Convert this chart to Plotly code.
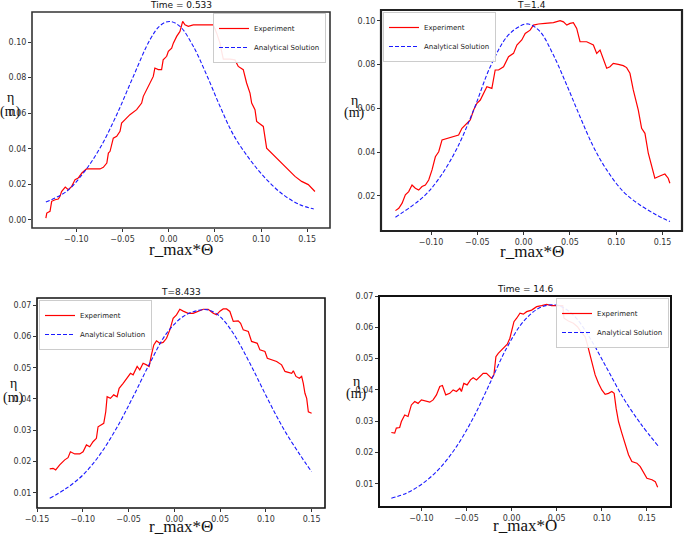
import plotly.graph_objects as go

# ---------------- data ----------------
# Panel 1: Time = 0.533
p1_exp_x = [-0.133, -0.132, -0.1285, -0.1267, -0.123, -0.1195, -0.1177, -0.116, -0.112, -0.1087, -0.105, -0.1014,
            -0.098, -0.094, -0.089, -0.0816, -0.0744, -0.0708, -0.067, -0.0653, -0.0635, -0.06, -0.0563, -0.0527,
            -0.051, -0.0473, -0.042, -0.0347, -0.0293, -0.0275, -0.024, -0.020, -0.0167, -0.015, -0.0113, -0.0077,
            -0.006, -0.0022, -0.0004, 0.0032, 0.005, 0.0086, 0.0122, 0.0151, 0.0176, 0.0212, 0.0266, 0.0338,
            0.0392, 0.0483, 0.0519, 0.0555, 0.0573, 0.0591, 0.0663, 0.0717, 0.0753, 0.0807, 0.0843, 0.088, 0.0898,
            0.0934, 0.0952, 0.1024, 0.106, 0.1114, 0.1186, 0.1276, 0.1367, 0.1439, 0.1511, 0.1583]
p1_exp_y = [0.0011, 0.0039, 0.0049, 0.0105, 0.0114, 0.0118, 0.0133, 0.016, 0.0185, 0.017, 0.0189, 0.0227,
            0.0236, 0.0264, 0.0287, 0.0287, 0.0287, 0.0296, 0.032, 0.0376, 0.0386, 0.046, 0.047, 0.0498,
            0.0545, 0.0564, 0.0592, 0.062, 0.0657, 0.0695, 0.0732, 0.077, 0.0807, 0.0854, 0.0845, 0.0845,
            0.090, 0.092, 0.0948, 0.0966, 0.0994, 0.1032, 0.106, 0.1116, 0.1097, 0.1088, 0.1097, 0.1097,
            0.1097, 0.1097, 0.105, 0.0994, 0.0948, 0.0904, 0.0904, 0.090, 0.0863, 0.0845, 0.077, 0.0713, 0.0657,
            0.062, 0.0554, 0.0526, 0.0404, 0.0376, 0.0339, 0.0292, 0.0245, 0.0217, 0.0199, 0.016]
p1_ana_x = [-0.133, -0.1105, -0.0924, -0.0744, -0.0563, -0.0383, -0.0203, -0.0094, 0.0007, 0.0122, 0.0266,
            0.041, 0.0555, 0.070, 0.088, 0.106, 0.124, 0.142, 0.157]
p1_ana_y = [0.0101, 0.0161, 0.0264, 0.0404, 0.0592, 0.0807, 0.1013, 0.1092, 0.1116, 0.1088, 0.0976,
            0.0816, 0.0639, 0.0479, 0.0339, 0.0227, 0.0142, 0.0086, 0.0062]

# Panel 2: T=1.4
p2_exp_x = [-0.1384, -0.1348, -0.1312, -0.1277, -0.1241, -0.1205, -0.1169, -0.1133, -0.1097, -0.1061, -0.1025,
            -0.0989, -0.0953, -0.0917, -0.0881, -0.0828, -0.0756, -0.0702, -0.0666, -0.0612, -0.0576, -0.054,
            -0.0504, -0.0468, -0.0432, -0.0397, -0.0343, -0.0307, -0.0271, -0.0217, -0.0163, -0.0109, -0.0073,
            -0.002, 0.0017, 0.007, 0.0106, 0.016, 0.0232, 0.0322, 0.0394, 0.043, 0.0466, 0.0501, 0.0537, 0.0573,
            0.0609, 0.0681, 0.0753, 0.0789, 0.0825, 0.086, 0.0897, 0.0932, 0.0968, 0.1022, 0.1076, 0.1112,
            0.1148, 0.1184, 0.1238, 0.1274, 0.131, 0.1346, 0.1381, 0.1417, 0.1471, 0.1525, 0.1561, 0.1579]
p2_exp_y = [0.0133, 0.0144, 0.0167, 0.0205, 0.022, 0.025, 0.0235, 0.0227, 0.0243, 0.025, 0.0273,
            0.0319, 0.0379, 0.0402, 0.0456, 0.0463, 0.0471, 0.0478, 0.0509, 0.0532, 0.0547, 0.0592,
            0.0623, 0.0638, 0.0668, 0.0699, 0.0691, 0.0775, 0.0775, 0.079, 0.0836, 0.0851, 0.0889,
            0.0912, 0.0942, 0.0957, 0.098, 0.0985, 0.0988, 0.0991, 0.100, 0.0995, 0.098, 0.0988, 0.0991, 0.0965,
            0.0904, 0.0904, 0.0889, 0.0851, 0.0866, 0.0828, 0.0783, 0.079, 0.0805, 0.0801, 0.0795, 0.0786,
            0.076, 0.0684, 0.0592, 0.0509, 0.0486, 0.0395, 0.0334, 0.0281, 0.0291, 0.030, 0.0281, 0.0258]
p2_ana_x = [-0.1384, -0.108, -0.090, -0.072, -0.054, -0.036, -0.018, -0.0037, 0.0052, 0.0178, 0.0322,
            0.0466, 0.0609, 0.0753, 0.0897, 0.1076, 0.1256, 0.1435, 0.158]
p2_ana_y = [0.0103, 0.0197, 0.0288, 0.0417, 0.0592, 0.079, 0.0927, 0.0976, 0.0985, 0.095, 0.0843,
            0.0706, 0.0562, 0.0425, 0.0319, 0.022, 0.0159, 0.0113, 0.0083]

# Panel 3: T=8.433
p3_exp_x = [-0.1361, -0.1325, -0.1296, -0.1252, -0.1197, -0.1161, -0.1135, -0.1088, -0.1033, -0.0997, -0.096,
            -0.0924, -0.0888, -0.0851, -0.0833, -0.0796, -0.0771, -0.0749, -0.0734, -0.0698, -0.0662, -0.0625,
            -0.0603, -0.0559, -0.0523, -0.0479, -0.045, -0.0406, -0.0377, -0.0341, -0.0304, -0.0275, -0.025,
            -0.0224, -0.0195, -0.0158, -0.0122, -0.0085, -0.0049, -0.0013, 0.0024, 0.006, 0.0097, 0.0151, 0.0206,
            0.0261, 0.0316, 0.037, 0.0425, 0.0461, 0.0498, 0.0534, 0.0571, 0.0607, 0.0644, 0.0698, 0.0724,
            0.0753, 0.0808, 0.0844, 0.0881, 0.0906, 0.0935, 0.099, 0.1016, 0.1063, 0.1118, 0.1172, 0.1209,
            0.1245, 0.1282, 0.130, 0.1329, 0.1366, 0.1391, 0.1409, 0.1427, 0.1446, 0.1464, 0.150]
p3_exp_y = [0.0176, 0.0178, 0.0173, 0.0189, 0.0205, 0.0212, 0.0231, 0.0224, 0.0224, 0.0231, 0.0253,
            0.0247, 0.0263, 0.0274, 0.0311, 0.0319, 0.0322, 0.0359, 0.0407, 0.0402, 0.0413, 0.0407,
            0.0434, 0.045, 0.0466, 0.0482, 0.0477, 0.0504, 0.0493, 0.0514, 0.0509, 0.0504, 0.0541,
            0.0573, 0.0586, 0.0578, 0.0581, 0.0594, 0.0621, 0.0658, 0.0669, 0.0687, 0.0681, 0.0674, 0.0674,
            0.068, 0.0687, 0.0687, 0.0674, 0.0669, 0.0681, 0.0688, 0.0688, 0.068, 0.0648, 0.065, 0.0642,
            0.0621, 0.0616, 0.0584, 0.0581, 0.0578, 0.0557, 0.0552, 0.053, 0.0525, 0.052, 0.0509, 0.0488,
            0.0485, 0.0482, 0.049, 0.0472, 0.0466, 0.0472, 0.045, 0.0418, 0.0402, 0.0359, 0.0354]
p3_ana_x = [-0.1361, -0.1179, -0.0997, -0.0815, -0.0632, -0.045, -0.0268, -0.0085, 0.0097, 0.0243, 0.037,
            0.0498, 0.0644, 0.0826, 0.1008, 0.119, 0.1373, 0.150]
p3_ana_y = [0.0082, 0.0114, 0.0157, 0.0221, 0.0306, 0.0407, 0.0514, 0.061, 0.0664, 0.0682, 0.0685,
            0.0664, 0.061, 0.0514, 0.0407, 0.0306, 0.0221, 0.0167]

# Panel 4: Time = 14.6
p4_exp_x = [-0.1333, -0.1296, -0.1278, -0.1241, -0.1222, -0.1185, -0.1148, -0.1111, -0.1074, -0.1037, -0.100,
            -0.0944, -0.0907, -0.087, -0.0833, -0.0796, -0.0767, -0.073, -0.0685, -0.0648, -0.0611, -0.0574,
            -0.0556, -0.053, -0.0493, -0.0456, -0.0426, -0.0389, -0.0352, -0.0315, -0.0278, -0.0248, -0.0222,
            -0.0196, -0.0174, -0.0148, -0.0111, -0.0085, -0.0048, -0.0019, 0.000, 0.0026, 0.0056, 0.0093, 0.013,
            0.0167, 0.0222, 0.0278, 0.0333, 0.0389, 0.0444, 0.050, 0.0567, 0.0581, 0.063, 0.0685, 0.073, 0.0767,
            0.0815, 0.0841, 0.087, 0.090, 0.0926, 0.0963, 0.100, 0.1037, 0.1074, 0.1111, 0.1137, 0.1159, 0.1185,
            0.1222, 0.1259, 0.1296, 0.1333, 0.1389, 0.1426, 0.1463, 0.150, 0.1556, 0.1593, 0.1619]
p4_exp_y = [0.0264, 0.0262, 0.0278, 0.028, 0.0299, 0.032, 0.0315, 0.0352, 0.0363, 0.0357, 0.0368,
            0.0365, 0.0361, 0.0368, 0.0384, 0.0411, 0.0414, 0.0384, 0.0389, 0.040, 0.0395, 0.0405,
            0.0395, 0.0421, 0.0416, 0.0432, 0.0439, 0.0432, 0.0443, 0.0453, 0.0453, 0.0445, 0.0437,
            0.0448, 0.0506, 0.0517, 0.0528, 0.0538, 0.0546, 0.0565, 0.0586, 0.0618, 0.0629, 0.0645, 0.0642,
            0.065, 0.0655, 0.0666, 0.0669, 0.0673, 0.0669, 0.0669, 0.0669, 0.0629, 0.062, 0.0613, 0.0602, 0.0586,
            0.057, 0.0544, 0.0512, 0.048, 0.0448, 0.0421, 0.040, 0.0386, 0.0389, 0.0395, 0.0389, 0.0341, 0.0299,
            0.0262, 0.0224, 0.0193, 0.0171, 0.0166, 0.0155, 0.0134, 0.0118, 0.0113, 0.0107, 0.0089]
p4_ana_x = [-0.1333, -0.1167, -0.0981, -0.0796, -0.0611, -0.0426, -0.0241, -0.0056, 0.013, 0.0315, 0.050,
            0.0685, 0.087, 0.1056, 0.1241, 0.1426, 0.163]
p4_ana_y = [0.0054, 0.007, 0.0102, 0.015, 0.0219, 0.031, 0.0421, 0.0533, 0.0618, 0.0663, 0.0671,
            0.0639, 0.0565, 0.0469, 0.0373, 0.0294, 0.0219]

titles = ["Time = 0.533", "T=1.4", "T=8.433", "Time = 14.6"]
x_labels = ["r_max*Θ", "r_max*Θ", "r_max*Θ", "r_max*O"]
legend_names = ["Experiment", "Analytical Solution"]

# ---------------- layout geometry ----------------
W, H = 685, 535


def px(x):
    return x / W


def py(y):
    return 1 - y / H


panels = [
    dict(exp=(p1_exp_x, p1_exp_y), ana=(p1_ana_x, p1_ana_y),
         box=(32, 330, 12, 228), xr=[-0.148, 0.1746], yr=[-0.0045, 0.1169],
         xt=[-0.10, -0.05, 0.0, 0.05, 0.10, 0.15], yt=[0.0, 0.02, 0.04, 0.06, 0.08, 0.10],
         frame=("#333333", 1.6), leg=(326, 13, "right"),
         title_y=5, ylab=(10, 98, 112), xlab_y=249),
    dict(exp=(p2_exp_x, p2_exp_y), ana=(p2_ana_x, p2_ana_y),
         box=(381, 682, 10, 231), xr=[-0.154, 0.171], yr=[0.004, 0.1049],
         xt=[-0.10, -0.05, 0.0, 0.05, 0.10, 0.15], yt=[0.02, 0.04, 0.06, 0.08, 0.10],
         frame=("#222222", 2.2), leg=(383, 12, "left"),
         title_y=5, ylab=(354, 100, 113), xlab_y=251),
    dict(exp=(p3_exp_x, p3_exp_y), ana=(p3_ana_x, p3_ana_y),
         box=(37, 325, 298, 508), xr=[-0.15, 0.1646], yr=[0.0051, 0.0723],
         xt=[-0.15, -0.10, -0.05, 0.0, 0.05, 0.10, 0.15], yt=[0.01, 0.02, 0.03, 0.04, 0.05, 0.06, 0.07],
         frame=("#111111", 1.6), leg=(39, 300, "left"),
         title_y=292, ylab=(13, 384, 398), xlab_y=526),
    dict(exp=(p4_exp_x, p4_exp_y), ana=(p4_ana_x, p4_ana_y),
         box=(379, 671, 296, 507), xr=[-0.147, 0.1767], yr=[0.0026, 0.07],
         xt=[-0.10, -0.05, 0.0, 0.05, 0.10, 0.15], yt=[0.01, 0.02, 0.03, 0.04, 0.05, 0.06, 0.07],
         frame=("#111111", 2.0), leg=(669, 298, "right"),
         title_y=289, ylab=(356, 381, 394), xlab_y=525),
]

fig = go.Figure()
annotations = []
shapes = []
layout = dict(width=W, height=H, margin=dict(l=0, r=0, t=0, b=0, autoexpand=False),
              paper_bgcolor="white", plot_bgcolor="white", showlegend=True)

tickfont = dict(family="DejaVu Sans", size=8, color="#333333")

for i, p in enumerate(panels):
    n = i + 1
    sfx = "" if n == 1 else str(n)
    xa, ya = "x" + sfx, "y" + sfx
    leg = "legend" + sfx
    l, r, t, b = p["box"]
    fig.add_trace(go.Scatter(x=p["exp"][0], y=p["exp"][1], mode="lines", name=legend_names[0],
                             line=dict(color="#ff0000", width=1.2),
                             xaxis=xa, yaxis=ya, legend=leg))
    fig.add_trace(go.Scatter(x=p["ana"][0], y=p["ana"][1], mode="lines", name=legend_names[1],
                             line=dict(color="#1a1aff", width=1.1, dash="4px,2px", shape="spline"),
                             xaxis=xa, yaxis=ya, legend=leg))
    fcol, fw = p["frame"]
    layout["xaxis" + sfx] = dict(domain=[px(l), px(r)], range=p["xr"], anchor=ya, automargin=False,
                                 tickvals=p["xt"], tickformat=".2f", ticks="outside", ticklen=3,
                                 tickcolor="#333", tickfont=tickfont, showgrid=False, zeroline=False,
                                 showline=False)
    layout["yaxis" + sfx] = dict(domain=[py(b), py(t)], range=p["yr"], anchor=xa, automargin=False,
                                 tickvals=p["yt"], tickformat=".2f", ticks="outside", ticklen=3,
                                 tickcolor="#333", tickfont=tickfont, showgrid=False, zeroline=False,
                                 showline=False)
    # panel frame
    shapes.append(dict(type="rect", xref=xa + " domain", yref=ya + " domain", x0=0, x1=1, y0=0, y1=1,
                       line=dict(color=fcol, width=fw), fillcolor="rgba(0,0,0,0)", layer="above"))
    lx, ly, anc = p["leg"]
    layout[leg] = dict(x=px(lx), y=py(ly), xanchor=anc, yanchor="top", xref="paper", yref="paper",
                       bgcolor="rgba(255,255,255,0.9)", bordercolor="#cccccc", borderwidth=1,
                       font=dict(family="DejaVu Sans", size=7, color="#222"),
                       itemwidth=30, tracegroupgap=0)
    cx = (l + r) / 2
    annotations.append(dict(text=titles[i], x=px(cx), y=py(p["title_y"]), xref="paper", yref="paper",
                            showarrow=False, xanchor="center", yanchor="middle",
                            font=dict(family="DejaVu Sans", size=9, color="#111")))
    annotations.append(dict(text=x_labels[i], x=px(cx), y=py(p["xlab_y"]), xref="paper", yref="paper",
                            showarrow=False, xanchor="center", yanchor="middle",
                            font=dict(family="Liberation Serif", size=17, color="#111")))
    yx, y1, y2 = p["ylab"]
    annotations.append(dict(text="η", x=px(yx), y=py(y1), xref="paper", yref="paper",
                            showarrow=False, xanchor="center", yanchor="middle",
                            font=dict(family="Liberation Serif", size=14, color="#111")))
    annotations.append(dict(text="(m)", x=px(yx), y=py(y2), xref="paper", yref="paper",
                            showarrow=False, xanchor="center", yanchor="middle",
                            font=dict(family="Liberation Serif", size=14, color="#111")))

layout["annotations"] = annotations
layout["shapes"] = shapes
fig.update_layout(**layout)
# remove the default 8px page margin so the figure fills the 685x535 window exactly
fig.write_html("out.html", config={"displayModeBar": False},
               post_script="document.body.style.margin='0px';")
